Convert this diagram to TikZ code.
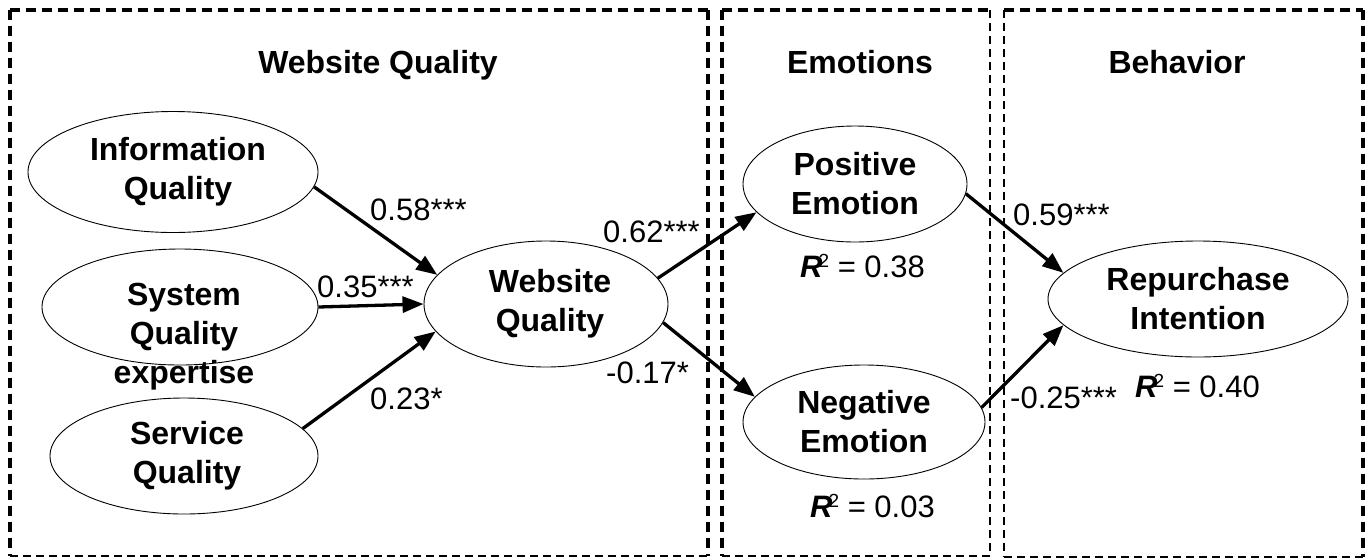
\documentclass[tikz,border=0pt]{standalone}
\usepackage{fontspec}
\setmainfont{Liberation Sans}
\usetikzlibrary{shapes.geometric,arrows.meta}
\tikzset{
  thickdash/.style={line width=3.5pt,dash pattern=on 10pt off 6pt},
  thindash/.style={line width=2.2pt,dash pattern=on 8pt off 5pt},
  construct/.style={ellipse,draw=black,line width=0.9pt,inner sep=0pt,align=center,
     font=\fontsize{32}{39}\selectfont\bfseries},
  boldtext/.style={inner sep=0pt,align=center,font=\fontsize{32}{39}\selectfont\bfseries},
  coef/.style={inner sep=0pt,anchor=base west,font=\fontsize{31}{34}\selectfont},
  path/.style={line width=3.3pt,-{Triangle[length=21pt,width=16pt]}}
}
\newcommand{\Rsq}{\textbf{\textit{R}}\kern-4pt\raisebox{10pt}{\fontsize{19}{19}\selectfont 2}}
\begin{document}
\begin{tikzpicture}[x=1pt,y=-1pt]
\useasboundingbox (0,0) rectangle (1367,558);
\fill[white] (0,0) rectangle (1367,558);
% boxes
\draw[thickdash] (10,10) -- (708,10);
\draw[thickdash] (10,10) -- (10,556);
\draw[thickdash] (708,10) -- (708,556);
\draw[thindash] (10,556) -- (708,556);
\draw[thickdash] (722,10) -- (990,10);
\draw[thickdash] (722,10) -- (722,556);
\draw[thindash] (990,10) -- (990,556);
\draw[thindash] (722,556) -- (990,556);
\draw[thickdash] (1004,10) -- (1363,10);
\draw[thindash] (1004,10) -- (1004,557);
\draw[thickdash] (1363,10) -- (1363,557);
\draw[thindash] (1004,557) -- (1363,557);
% titles
\node[boldtext,anchor=base] (t1) at (378,73) {Website Quality};
\node[boldtext,anchor=base] (t2) at (860,73) {Emotions};
\node[boldtext,anchor=base] (t3) at (1177,73) {Behavior};
% constructs
\node[construct,minimum width=290pt,minimum height=121pt] (info) at (173,172) {\hspace*{10pt}Information\\\hspace*{10pt}Quality};
\node[construct,minimum width=276pt,minimum height=116pt] (sys) at (180,307) {};
\node[boldtext] (systxt) at (184,337) {System\\Quality\\expertise};
\node[construct,minimum width=268pt,minimum height=116pt] (serv) at (184,456) {\hspace*{6pt}Service\\\hspace*{6pt}Quality};
\node[construct,minimum width=244pt,minimum height=126pt] (wq) at (546,304) {\hspace*{8pt}Website\\\hspace*{8pt}Quality};
\node[construct,minimum width=224pt,minimum height=116pt] (pos) at (855,184) {Positive\\Emotion};
\node[construct,minimum width=242pt,minimum height=114pt] (neg) at (864,422) {Negative\\Emotion};
\node[construct,minimum width=300pt,minimum height=116pt] (rep) at (1198,299) {Repurchase\\Intention};
% paths
\draw[path] (info.-6) -- (wq.165);
\draw[path] (sys.east) -- (wq.west);
\draw[path] (serv.13) -- (wq.194);
\draw[path] (wq.13) -- (pos.196);
\draw[path] (wq.-9) -- (neg.167);
\draw[path] (pos.-5) -- (rep.169);
\draw[path] (neg.7) -- (rep.191);
% coefficients
\node[coef] (c1) at (370,220) {0.58***};
\node[coef] (c2) at (317,297) {0.35***};
\node[coef] (c3) at (370,409) {0.23*};
\node[coef] (c4) at (603,242) {0.62***};
\node[coef] (c5) at (606,383) {-0.17*};
\node[coef] (c6) at (1013,225) {0.59***};
\node[coef] (c7) at (1010,408) {-0.25***};
\node[coef] (r1) at (800,277) {\Rsq{} = 0.38};
\node[coef] (r2) at (810,517) {\Rsq{} = 0.03};
\node[coef] (r3) at (1135,397) {\Rsq{} = 0.40};
\end{tikzpicture}
\end{document}
